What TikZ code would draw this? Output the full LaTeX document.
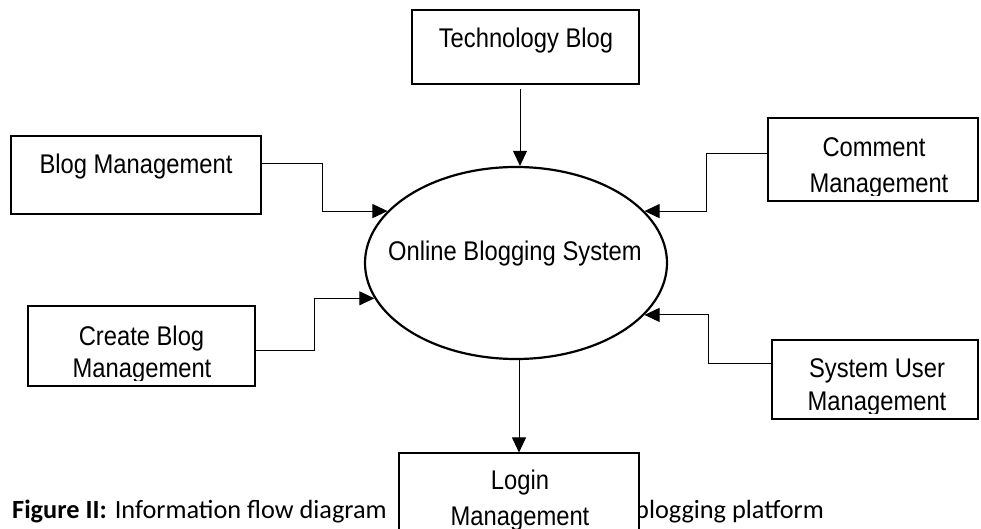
\documentclass[tikz,border=0pt]{standalone}
\usepackage{fontspec}
\setmainfont{Liberation Sans}
\newfontfamily\boxfont[FakeStretch=0.88]{Liberation Sans}
\newfontfamily\capfont{Carlito}
\usetikzlibrary{arrows.meta,shapes.geometric}
\begin{document}
\begin{tikzpicture}[x=1pt,y=-1pt,
  box/.style={draw, line width=1.1pt, fill=white, inner sep=0pt},
  lbl/.style={font=\boxfont\fontsize{27}{33}\selectfont, inner sep=0pt, anchor=base},
  conn/.style={draw, line width=0.9pt, -{Triangle[length=15pt,width=14pt]}},
  captext/.style={font=\capfont\fontsize{26.3}{31}\selectfont, inner sep=0pt, anchor=base west}]
\useasboundingbox (0,0) rectangle (981,529);

% caption (partly hidden by the Login box)
\node[captext] (capA) at (12,518) {\textbf{Figure II:}\hspace{2pt} Information flow diagram};
\node[captext] (capB) at (635,518) {blogging platform};

% boxes
\node[box, minimum width=227pt, minimum height=74pt] (tech) at (525.5,47) {};
\node[box, minimum width=250pt, minimum height=78pt] (blog) at (136,175) {};
\node[box, minimum width=210pt, minimum height=83pt] (comm) at (873,159.5) {};
\node[box, minimum width=227pt, minimum height=80pt] (create) at (141.5,346) {};
\node[box, minimum width=206pt, minimum height=79pt] (sysu) at (875,379.5) {};
\node[box, minimum width=240pt, minimum height=107pt] (login) at (519,506.5) {};

% box texts
\node[lbl] (techT) at (526,48) {Technology Blog};
\node[lbl] (blogT) at (136,174) {Blog Management};
\node[lbl] (commA) at (874,157) {Comment};
\begin{scope}
  \clip (768,118) rectangle (978,196);
  \node[lbl] (commB) at (879,193) {Management};
\end{scope}
\node[lbl] (createA) at (141.5,345) {Create Blog};
\begin{scope}
  \clip (28,306) rectangle (255,380);
  \node[lbl] (createB) at (142,377) {Management};
\end{scope}
\node[lbl] (sysuA) at (877,377) {System User};
\begin{scope}
  \clip (772,340) rectangle (978,413);
  \node[lbl] (sysuB) at (877,410) {Management};
\end{scope}
\node[lbl] (loginA) at (520,489.5) {Login};
\node[lbl] (loginB) at (520,525) {Management};

% central process
\node[ellipse, draw, line width=2.2pt, fill=white, minimum width=302pt, minimum height=192pt, inner sep=0pt] (sys) at (516,263) {};
\node[lbl] (sysT) at (515,260) {Online Blogging System};

% connectors
\draw[conn, shorten <=4pt] ([xshift=-5.5pt]tech.south) -- ([xshift=-5.5pt]tech.south |- sys.north);
\draw[conn] ([yshift=12pt]blog.east) -- ++(61,0) |- (sys.158);
\draw[conn] ([yshift=6.5pt]comm.west) -- ++(-61,0) |- (sys.22);
\draw[conn] ([yshift=-4pt]create.east) -- ++(59,0) |- (sys.194);
\draw[conn] ([yshift=16.5pt]sysu.west) -- ++(-63,0) |- (sys.338);
\draw[conn] (sys.south -| login.north) -- (login.north);
\end{tikzpicture}
\end{document}
